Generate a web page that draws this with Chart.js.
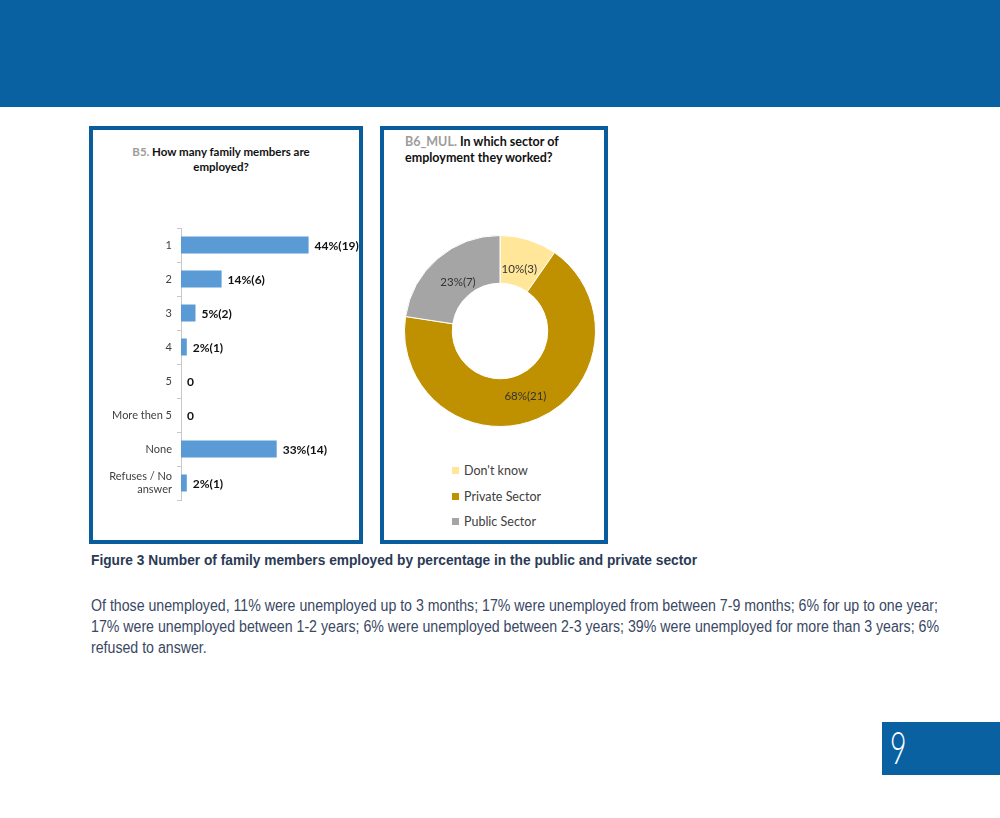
<!DOCTYPE html>
<html>
<head>
<meta charset="utf-8">
<script src="https://cdn.jsdelivr.net/npm/chart.js@4.4.0/dist/chart.umd.min.js"></script>
<style>
  html, body { margin: 0; padding: 0; background: #fff; }
  body { width: 1000px; height: 818px; position: relative; overflow: hidden; font-family: "Lato", "Open Sans", sans-serif; }
  .band { position: absolute; left: 0; top: 0; width: 1000px; height: 107px; background: #0a61a2; }
  .frame { position: absolute; border: 4px solid #0a5d9c; box-sizing: border-box; background: #fff; }
  #f1 { left: 89px; top: 126px; width: 274px; height: 418px; }
  #f2 { left: 380px; top: 126px; width: 228px; height: 418px; }
  .t1 { position: absolute; left: 93px; top: 144px; width: 256px; text-align: center; font-size: 11.5px; font-weight: bold; line-height: 15px; color: #111; }
  .t2 { position: absolute; left: 405px; top: 134px; width: 200px; font-size: 12.5px; font-weight: bold; line-height: 16px; color: #111; }
  .gray { color: #9c9c9c; }
  #bars { position: absolute; left: 93px; top: 130px; }
  #donut { position: absolute; left: 404px; top: 235px; }
  .legend { position: absolute; left: 452px; top: 462px; font-size: 12.5px; color: #404040; }
  .legend div { height: 25.5px; line-height: 18px; white-space: nowrap; }
  .legend span.sw { display: inline-block; width: 7px; height: 7px; margin-right: 5px; vertical-align: 1px; }
  .fit { position: absolute; left: 91px; font-family: "Liberation Sans", Arial, sans-serif; white-space: nowrap; transform-origin: left top; }
  .fit span { display: block; width: max-content; }
  .caption { top: 552px; font-weight: bold; font-size: 14.5px; line-height: 17px; color: #2b3a55; }
  .para { top: 595px; font-size: 16px; line-height: 21px; color: #3a4864; }
  .pgbox { position: absolute; left: 882px; top: 722px; width: 118px; height: 53px; background: #0a61a2; }
  .pgnum { position: absolute; left: 890px; top: 722px; font-family: "Lato", sans-serif; font-weight: 300; font-size: 46px; line-height: 50px; color: #fff; transform: scaleX(0.62); transform-origin: left; }
</style>
</head>
<body>
<div class="band"></div>
<div class="frame" id="f1"></div>
<div class="frame" id="f2"></div>
<div class="t1"><span class="gray">B5.</span> How many family members are<br>employed?</div>
<div class="t2"><span class="gray">B6_MUL.</span> In which sector of<br>employment they worked?</div>
<canvas id="bars" width="266" height="410"></canvas>
<canvas id="donut" width="192" height="192"></canvas>
<div class="legend" id="legend"></div>
<div class="fit caption" data-w="606"><span>Figure 3 Number of family members employed by percentage in the public and private sector</span></div>
<div class="fit para" data-w="848"><span>Of those unemployed, 11% were unemployed up to 3 months; 17% were unemployed from between 7-9 months; 6% for up to one year;</span><span>17% were unemployed between 1-2 years; 6% were unemployed between 2-3 years; 39% were unemployed for more than 3 years; 6%</span><span>refused to answer.</span></div>
<div class="pgbox"></div>
<div class="pgnum">9</div>

<script>
// B5 - how many family members are employed
const membrosLabels = ['1', '2', '3', '4', '5', 'More then 5', 'None', ['Refuses / No', 'answer']];
const membrosPct = [44, 14, 5, 2, 0, 0, 33, 2];
const membrosQtd = [19, 6, 2, 1, 0, 0, 14, 1];

// B6_MUL - sector of employment
const setorLabels = ["Don't know", 'Private Sector', 'Public Sector'];
const setorQtd = [3, 21, 7];
const setorPct = [10, 68, 23];
const setorCores = ['#ffe699', '#bf9000', '#a5a5a5'];

// condensed text: squeeze each block to the width it has on the page
document.querySelectorAll('.fit').forEach(el => {
    let maior = 0;
    el.querySelectorAll('span').forEach(s => { maior = Math.max(maior, s.getBoundingClientRect().width); });
    el.style.transform = `scaleX(${el.dataset.w / maior})`;
});

const rotuloBarras = {
    id: 'rotuloBarras',
    afterDatasetsDraw(chart) {
        const ctx = chart.ctx;
        const meta = chart.getDatasetMeta(0);
        ctx.save();
        ctx.font = 'bold 12px Lato, "Open Sans", sans-serif';
        ctx.fillStyle = '#111';
        ctx.textAlign = 'left';
        ctx.textBaseline = 'middle';
        meta.data.forEach((bar, i) => {
            const txt = membrosPct[i] === 0 ? '0' : membrosPct[i] + '%(' + membrosQtd[i] + ')';
            ctx.fillText(txt, bar.x + 6, bar.y + 1);
        });
        ctx.restore();
    }
};

const rotuloFatias = {
    id: 'rotuloFatias',
    afterDatasetsDraw(chart) {
        const ctx = chart.ctx;
        const meta = chart.getDatasetMeta(0);
        ctx.save();
        ctx.font = '11.5px Lato, "Open Sans", sans-serif';
        ctx.fillStyle = '#333';
        ctx.textAlign = 'center';
        ctx.textBaseline = 'middle';
        meta.data.forEach((arc, i) => {
            const p = arc.tooltipPosition();
            const dx = (p.x - 96) * 0.1, dy = (p.y - 96) * 0.05;
            ctx.fillText(setorPct[i] + '%(' + setorQtd[i] + ')', p.x - dx, p.y + 3 - dy);
        });
        ctx.restore();
    }
};

new Chart(document.getElementById('bars'), {
    type: 'bar',
    data: {
        labels: membrosLabels,
        datasets: [{
            data: membrosPct,
            backgroundColor: '#5b9bd5',
            categoryPercentage: 1,
            barPercentage: 0.5
        }]
    },
    options: {
        indexAxis: 'y',
        responsive: false,
        animation: false,
        layout: { padding: { top: 98, bottom: 40, right: 4 } },
        plugins: { legend: { display: false }, tooltip: { enabled: false } },
        scales: {
            x: { display: false, min: 0, max: 60 },
            y: {
                afterFit(scale) { scale.width = 88; },
                grid: { offset: true, drawOnChartArea: false, tickLength: 4, color: '#c8c8c8' },
                border: { color: '#c8c8c8' },
                ticks: { color: '#404040', padding: 5, font: { size: 11, family: 'Lato, "Open Sans", sans-serif' } }
            }
        }
    },
    plugins: [rotuloBarras]
});

new Chart(document.getElementById('donut'), {
    type: 'doughnut',
    data: {
        labels: setorLabels,
        datasets: [{
            data: setorQtd,
            backgroundColor: setorCores,
            borderColor: '#fff',
            borderWidth: 1
        }]
    },
    options: {
        responsive: false,
        animation: false,
        cutout: '50%',
        plugins: { legend: { display: false }, tooltip: { enabled: false } }
    },
    plugins: [rotuloFatias]
});

const legenda = document.getElementById('legend');
setorLabels.forEach((nome, i) => {
    const linha = document.createElement('div');
    linha.innerHTML = `<span class="sw" style="background:${setorCores[i]}"></span>${nome}`;
    legenda.appendChild(linha);
});
</script>
</body>
</html>
